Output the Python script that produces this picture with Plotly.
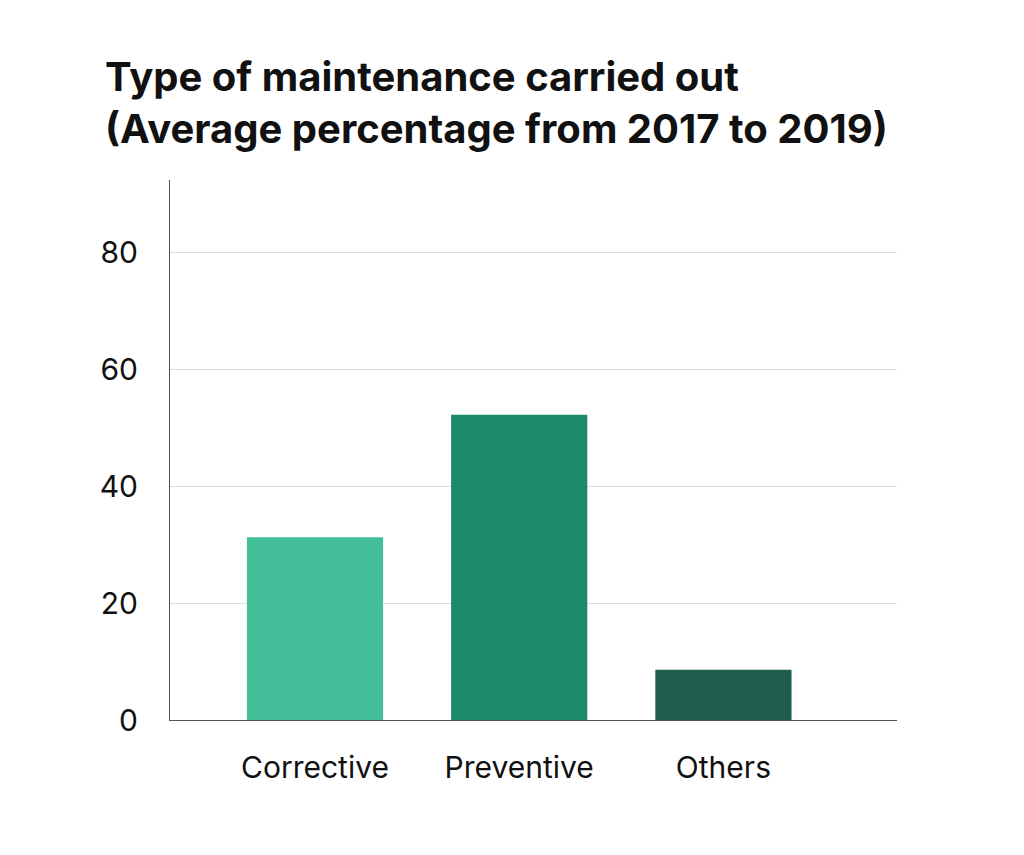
import plotly.graph_objects as go

categories = ["Corrective", "Preventive", "Others"]
values = [31.3, 52.3, 8.6]
bar_colors = ["#45BE9A", "#1A8A69", "#1F5E4E"]

fig = go.Figure(
    go.Bar(
        x=categories,
        y=values,
        marker=dict(color=bar_colors, line=dict(width=0)),
        width=0.667,
        hoverinfo="x+y",
    )
)

fig.update_layout(
    width=1024,
    height=855,
    paper_bgcolor="white",
    plot_bgcolor="white",
    margin=dict(l=162, r=135, t=172, b=143),
    font=dict(family="Inter", size=30, color="#111111"),
    title=dict(
        text="<b>Type of maintenance carried out<br>(Average percentage from 2017 to 2019)</b>",
        font=dict(family="Inter", size=40, color="#111111"),
        x=97 / 1024,
        xanchor="left",
        xref="container",
        y=1 - 83 / 855,
        yanchor="top",
        yref="container",
    ),
    showlegend=False,
)

fig.update_xaxes(
    type="category",
    range=[-0.71, 2.85],
    showline=True,
    linecolor="#555555",
    linewidth=1,
    showgrid=False,
    ticks="",
    ticklabelstandoff=21,
)

fig.update_yaxes(
    range=[0, 92.5],
    tickvals=[0, 20, 40, 60, 80],
    showline=True,
    linecolor="#555555",
    linewidth=1,
    showgrid=True,
    gridcolor="#DDDDDD",
    gridwidth=1,
    zeroline=False,
    ticks="",
    ticklabelstandoff=25,
)

fig.write_html("out.html")
